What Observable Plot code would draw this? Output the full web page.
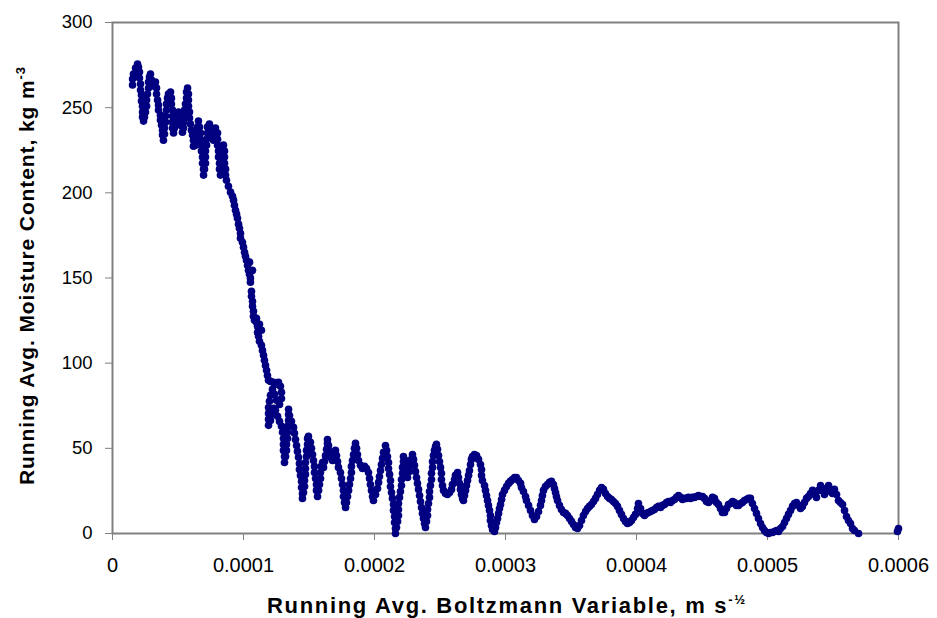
<!DOCTYPE html>
<html><head><meta charset="utf-8">
<script src="https://cdn.jsdelivr.net/npm/d3@7"></script>
<script src="https://cdn.jsdelivr.net/npm/@observablehq/plot@0.6"></script>
<style>body{margin:0;background:#fff}</style>
</head><body><div id="chart"></div>
<script>
// Tick values and labels
const xTicks = [0, 0.0001, 0.0002, 0.0003, 0.0004, 0.0005, 0.0006];
const xTickLabels = ["0", "0.0001", "0.0002", "0.0003", "0.0004", "0.0005", "0.0006"];
const yTicks = [0, 50, 100, 150, 200, 250, 300];
const xTitle = "Running Avg. Boltzmann Variable, m s";
const xTitleSup = "-½";
const yTitle = "Running Avg. Moisture Content, kg m";
const yTitleSup = "-3";

// Readings: [Boltzmann variable in units of 1e-6 m s^-1/2, moisture content kg m^-3]
const plateau = [[15.3,263.3],[15.3,266.8],[16.0,269.7],[17.6,273.3],[19.1,275.6],[19.8,273.8],[20.6,270.9],[20.6,267.4],[21.4,263.9],[21.4,260.3],[22.1,257.4],[22.1,253.9],[22.9,250.9],[22.9,247.4],[22.9,244.5],[23.7,242.1],[24.4,244.5],[25.2,247.4],[26.0,250.9],[26.0,254.5],[26.7,258.0],[27.5,261.5],[27.5,265.0],[28.2,268.0],[29.0,269.7],[29.8,266.2],[30.5,262.7],[32.1,264.4],[32.8,265.0],[33.6,261.5],[33.6,258.0],[34.4,254.5],[35.1,251.5],[35.1,248.6],[36.6,245.6],[36.6,242.7],[37.4,239.8],[38.2,236.8],[38.2,233.9],[38.9,230.9],[39.7,234.5],[39.7,238.0],[40.5,241.5],[40.5,245.1],[41.2,248.6],[41.2,252.1],[42.0,255.6],[42.7,258.0],[44.3,259.2],[45.0,255.6],[45.0,252.1],[45.8,248.6],[45.8,245.1],[45.8,241.5],[45.8,238.0],[46.6,235.1],[47.3,238.0],[48.1,240.9],[48.9,244.5],[50.4,247.4],[51.9,246.2],[51.9,242.7],[52.7,239.2],[53.4,235.6],[54.2,238.0],[54.2,241.5],[55.0,245.1],[55.0,248.6],[55.7,252.1],[56.5,255.6],[56.5,259.2],[57.3,261.5],[58.0,258.0],[58.0,254.5],[58.0,250.9],[58.8,247.4],[58.8,243.9],[59.5,240.4],[60.3,236.8],[61.1,233.9],[61.8,230.9],[61.8,227.4],[63.4,228.0],[64.1,231.5],[64.9,235.1],[64.9,238.6],[65.6,242.1],[66.4,238.6],[67.2,235.1],[67.2,231.5],[67.9,228.0],[67.9,224.5],[68.7,221.0],[68.7,217.4],[69.5,213.9],[69.5,210.4],[70.2,213.9],[71.0,217.4],[71.0,221.0],[71.0,224.5],[71.8,228.0],[71.8,231.5],[72.5,235.1],[72.5,238.6],[74.0,240.4],[74.8,236.8],[75.6,233.3],[77.1,230.9],[77.9,234.5],[78.6,238.0],[80.2,235.1],[80.2,231.5],[80.2,228.0],[80.9,224.5],[80.9,221.0],[81.7,217.4],[81.7,213.9],[82.4,210.4],[83.2,213.9],[83.2,217.4],[84.0,221.0],[84.0,224.5],[84.7,228.0],[85.5,224.5],[85.5,221.0],[85.5,217.4],[86.3,213.9],[86.3,210.4],[87.0,207.4],[88.5,203.9],[90.1,200.4],[91.6,198.0]];

const steepDrop = [[92.4,195.7],[93.1,192.7],[93.9,189.8],[94.7,187.5],[95.4,185.1],[96.2,181.6],[96.9,179.2],[97.7,176.3],[97.7,173.4],[99.2,171.0],[100.0,168.1],[100.8,165.1],[101.5,162.8],[102.3,160.4],[103.1,157.5],[103.8,154.5],[104.6,152.2],[105.3,149.9],[105.3,147.5],[106.1,142.2],[106.1,139.3],[106.9,136.3],[106.9,133.4],[107.6,130.5],[107.6,127.5],[108.4,125.2],[109.9,124.0],[110.7,121.6],[110.7,118.1],[111.5,115.8],[112.2,112.8],[113.7,110.5],[114.5,107.5],[115.3,104.6],[116.0,101.7],[116.8,98.7],[117.6,95.8],[118.3,92.8],[119.1,89.9],[120.6,89.3],[122.9,88.7],[124.4,87.6],[104.6,159.3],[106.9,154.5],[109.9,126.3],[112.2,122.8],[113.7,119.3]];

const earlyOscillations = [[126.7,88.7],[128.2,86.4],[129.0,82.9],[129.0,79.3],[127.5,75.8],[125.2,78.2],[123.7,81.7],[122.1,84.6],[120.6,81.1],[119.8,77.6],[119.1,74.0],[119.1,70.5],[119.1,67.0],[119.1,63.5],[120.6,66.4],[121.4,69.9],[122.9,73.5],[124.4,72.3],[126.0,68.8],[127.5,65.8],[129.0,62.9],[129.8,59.4],[130.5,55.8],[130.5,52.3],[130.5,48.8],[131.3,45.2],[131.3,41.7],[132.1,45.2],[132.8,48.8],[132.8,52.3],[133.6,55.8],[133.6,59.4],[133.6,62.9],[134.4,66.4],[134.4,69.9],[134.4,72.9],[135.1,69.3],[136.6,65.8],[138.2,62.3],[138.9,58.8],[139.7,55.2],[140.5,51.7],[141.2,48.2],[142.0,44.7],[142.7,41.1],[142.7,37.6],[143.5,34.1],[144.3,30.6],[144.3,27.0],[145.0,23.5],[145.0,20.6],[145.8,24.1],[146.6,27.6],[146.6,31.1],[147.3,34.7],[147.3,38.2],[147.3,41.7],[148.1,45.2],[148.1,48.8],[148.9,52.3],[148.9,55.8],[149.6,57.0],[151.1,53.5],[151.9,50.0],[152.7,46.4],[153.4,42.9],[154.2,39.4],[154.2,35.8],[155.0,32.3],[155.7,28.8],[155.7,25.3],[156.5,21.7],[157.3,25.3],[158.0,28.8],[158.8,32.3],[158.8,35.8],[159.5,39.4],[160.3,41.7],[161.1,38.8],[161.8,42.3],[162.6,45.8],[163.4,49.4],[164.1,52.9],[164.1,55.2],[164.9,51.7],[165.6,48.2],[166.4,44.7],[167.9,42.9],[169.5,46.4],[170.2,48.8],[171.0,45.8],[171.8,42.3],[172.5,38.8],[174.0,35.8],[174.8,32.3],[175.6,28.8],[176.3,25.3],[176.3,21.7],[177.1,18.2],[177.9,15.3],[178.6,18.2],[179.4,21.7],[180.2,25.3],[180.9,28.8],[181.7,32.3],[182.4,35.8],[182.4,39.4],[183.2,42.9],[184.0,46.4],[184.7,50.0],[185.5,52.9],[186.3,50.0],[187.0,46.4],[187.8,42.9],[189.3,40.0],[190.8,38.2],[192.4,39.4],[193.9,38.2],[195.4,35.8],[196.2,32.3],[196.9,28.8],[197.7,25.3],[198.5,21.7],[199.2,19.4],[200.8,22.9],[202.3,26.4],[203.1,30.0],[203.8,33.5],[204.6,37.0],[205.3,40.5],[206.1,44.1],[206.9,47.6],[208.4,51.7],[209.2,48.8],[209.9,45.2],[210.7,41.7],[210.7,38.2],[211.5,34.7],[212.2,31.1],[212.2,27.6],[213.0,24.1],[213.7,20.6],[214.5,17.0],[214.5,13.5],[215.3,10.0],[215.3,6.5],[216.0,2.9],[216.0,0.0]];

const midOscillations = [[216.8,3.5],[217.6,7.1],[218.3,10.6],[218.3,14.1],[218.3,17.6],[219.1,21.2],[219.8,24.7],[220.6,28.2],[220.6,31.7],[221.4,35.3],[221.4,38.8],[222.1,42.3],[222.1,45.2],[223.7,42.9],[224.4,39.4],[225.2,35.8],[225.2,32.9],[226.7,36.4],[227.5,40.0],[228.2,43.5],[229.0,46.4],[229.8,43.5],[230.5,40.0],[231.3,36.4],[232.1,32.9],[232.8,29.4],[233.6,25.9],[234.4,22.3],[235.1,18.8],[235.9,15.3],[236.6,11.8],[237.4,8.8],[238.2,5.9],[238.9,3.5],[239.7,7.1],[240.5,10.6],[240.5,14.1],[241.2,17.6],[242.0,21.2],[242.0,24.7],[242.7,28.2],[243.5,31.7],[243.5,35.3],[244.3,38.8],[244.3,42.3],[245.0,45.8],[245.8,48.8],[246.6,51.1],[247.3,52.3],[248.1,49.4],[248.9,45.8],[249.6,42.3],[250.4,38.8],[251.1,35.3],[251.1,31.7],[251.9,28.2],[252.7,25.3],[254.2,23.5],[255.7,22.9],[257.3,24.1],[258.8,25.9],[259.5,28.8],[261.1,31.7],[261.8,34.1],[263.4,35.8],[264.1,32.9],[264.9,29.4],[265.6,25.9],[266.4,22.9],[267.2,20.6],[267.9,19.4],[268.7,22.3],[269.5,25.3],[270.2,28.2],[271.0,31.1],[271.8,34.1],[272.5,37.0],[273.3,40.5],[274.0,43.5],[274.8,45.2],[276.3,46.4],[277.9,45.8],[279.4,43.5],[280.9,40.5],[281.7,37.6],[281.7,34.1],[282.4,31.1],[284.0,28.2],[284.7,25.3],[285.5,22.3],[286.3,19.4],[287.0,16.5],[287.8,13.5],[288.5,10.6],[288.5,7.6],[289.3,4.7],[290.1,2.4],[291.6,1.2],[292.4,3.5],[293.1,6.5],[293.9,8.8],[294.7,11.8],[295.4,14.7],[296.2,17.0],[297.0,20.0],[297.7,22.9],[299.2,25.3],[300.8,27.6],[302.3,29.4],[303.8,30.6],[305.3,31.7],[306.9,32.9],[308.4,32.9],[309.9,31.1],[311.5,29.4],[312.2,27.0],[313.7,24.7],[315.3,21.7],[316.0,19.4],[317.6,16.5],[319.1,13.5],[320.6,10.6],[322.1,8.2],[323.7,10.0],[325.2,12.9],[326.7,16.5],[327.5,19.4],[328.2,22.3],[329.0,25.3],[330.5,27.6],[332.1,28.8],[333.6,30.0],[335.1,30.6],[336.6,28.8],[337.4,26.4],[338.2,24.1],[338.9,21.7],[339.7,19.4],[341.2,16.5],[342.7,14.1],[344.3,12.3],[345.8,11.8],[347.3,10.6],[348.9,8.8],[350.4,7.1],[351.9,5.3],[353.4,3.5],[355.0,2.9],[356.5,4.7],[358.0,7.6],[359.5,10.6],[361.1,12.9],[362.6,14.7],[364.1,15.9],[365.6,17.0],[367.2,18.8],[368.7,20.6],[370.2,22.9],[371.8,25.3],[373.3,27.0],[374.8,25.9],[376.3,23.5],[377.9,21.7],[379.4,20.6],[380.9,20.0],[382.4,18.8],[384.0,17.6],[385.5,15.9],[387.0,13.5],[388.5,11.2],[390.1,8.8],[391.6,7.1],[393.1,5.9],[394.7,6.5],[396.2,7.6],[397.7,9.4],[399.2,11.2],[400.8,14.7],[401.5,17.6],[403.1,14.7],[404.6,11.8],[406.1,10.6]];

const lateTail = [[407.6,11.8],[409.2,12.3],[410.7,12.9],[412.2,13.5],[413.7,14.1],[415.3,15.3],[416.8,15.9],[418.3,15.3],[419.8,16.5],[421.4,17.0],[422.9,18.2],[424.4,18.8],[426.0,18.2],[427.5,19.4],[429.0,20.0],[430.5,21.2],[432.1,22.3],[433.6,21.2],[435.1,20.0],[436.6,20.6],[438.2,20.6],[439.7,21.2],[441.2,20.6],[442.7,21.2],[444.3,21.2],[445.8,21.7],[447.3,22.3],[448.9,21.7],[450.4,21.7],[451.9,20.6],[453.4,18.8],[455.0,18.2],[456.5,19.4],[458.0,21.2],[459.5,20.6],[461.1,18.2],[462.6,17.0],[464.1,14.7],[465.6,12.3],[467.2,12.3],[468.7,14.7],[470.2,17.0],[471.8,17.6],[473.3,18.8],[474.8,18.2],[476.3,16.5],[477.9,16.5],[479.4,17.6],[480.9,18.2],[482.4,19.4],[484.0,20.0],[485.5,20.6],[487.0,20.6],[488.5,17.6],[490.1,14.7],[491.6,11.8],[493.1,8.8],[494.7,5.9],[496.2,3.5],[497.7,1.8],[499.2,0.6],[500.8,0.0],[502.3,0.6],[503.8,0.6],[505.3,1.2],[506.9,1.8],[508.4,1.2],[509.9,2.9],[511.5,4.1],[513.0,6.5],[514.5,8.8],[516.0,11.2],[517.6,13.5],[519.1,15.9],[520.6,17.6],[522.1,18.2],[523.7,16.5],[525.2,14.7],[526.7,15.9],[528.2,18.2],[529.8,20.6],[531.3,21.7],[532.8,23.5],[534.4,25.3],[535.9,22.9],[537.4,21.2],[538.9,25.3],[540.5,28.2],[542.0,25.3],[543.5,22.9],[545.0,26.4],[546.6,28.2],[548.1,24.7],[549.6,23.5],[551.1,25.9],[552.7,22.9],[554.2,19.4],[555.7,18.2],[557.3,17.0],[558.8,13.5],[560.3,10.0],[561.8,7.6],[563.4,5.9],[564.9,2.9],[566.4,1.8],[569.5,0.0],[599.2,1.2],[600.0,2.9]];

const MICRO = 1e-6;
const readings = [...plateau, ...steepDrop, ...earlyOscillations, ...midOscillations, ...lateTail]
  .map(([b, m]) => ({b: b * MICRO, m}));

const xLabelOf = new Map(xTicks.map((t, i) => [t, xTickLabels[i]]));
const AXIS_GREY = "#808080";
const NAVY = "#000080";

const chart = Plot.plot({
  width: 937,
  height: 618,
  marginLeft: 112,
  marginRight: 39,
  marginTop: 22,
  marginBottom: 85,
  style: {fontFamily: "'Liberation Sans', Arial, sans-serif", fontSize: "18px", color: "#000", background: "#fff"},
  x: {domain: [0, 0.0006]},
  y: {domain: [0, 300]},
  marks: [
    Plot.frame({stroke: AXIS_GREY, strokeWidth: 2}),
    Plot.axisX({ticks: xTicks, tickFormat: d => xLabelOf.get(d), tickSize: 7, tickPadding: 17, label: null, fontSize: 20}),
    Plot.axisY({ticks: yTicks, tickSize: 7, tickPadding: 13, label: null, fontSize: 18.5}),
    Plot.dot(readings, {x: "b", y: "m", r: 3.8, fill: NAVY, stroke: null})
  ]
});

const svg = d3.select(chart);
svg.selectAll("[aria-label='x-axis tick'], [aria-label='y-axis tick']").attr("stroke", AXIS_GREY);

// Axis titles
const xt = svg.append("text")
  .attr("x", 506).attr("y", 613)
  .attr("text-anchor", "middle")
  .attr("textLength", 478).attr("lengthAdjust", "spacing")
  .style("font-family", "'Liberation Sans', Arial, sans-serif")
  .style("font-weight", "bold").style("font-size", "22px").attr("fill", "#000");
xt.append("tspan").text(xTitle);
xt.append("tspan").attr("dy", -9).style("font-size", "13px").text(xTitleSup);

const yt = svg.append("text")
  .attr("transform", "translate(34,276) rotate(-90)")
  .attr("text-anchor", "middle")
  .attr("textLength", 418).attr("lengthAdjust", "spacing")
  .style("font-family", "'Liberation Sans', Arial, sans-serif")
  .style("font-weight", "bold").style("font-size", "21px").attr("fill", "#000");
yt.append("tspan").text(yTitle);
yt.append("tspan").attr("dy", -9).style("font-size", "13px").text(yTitleSup);

document.getElementById("chart").append(chart);
</script>
</body></html>
